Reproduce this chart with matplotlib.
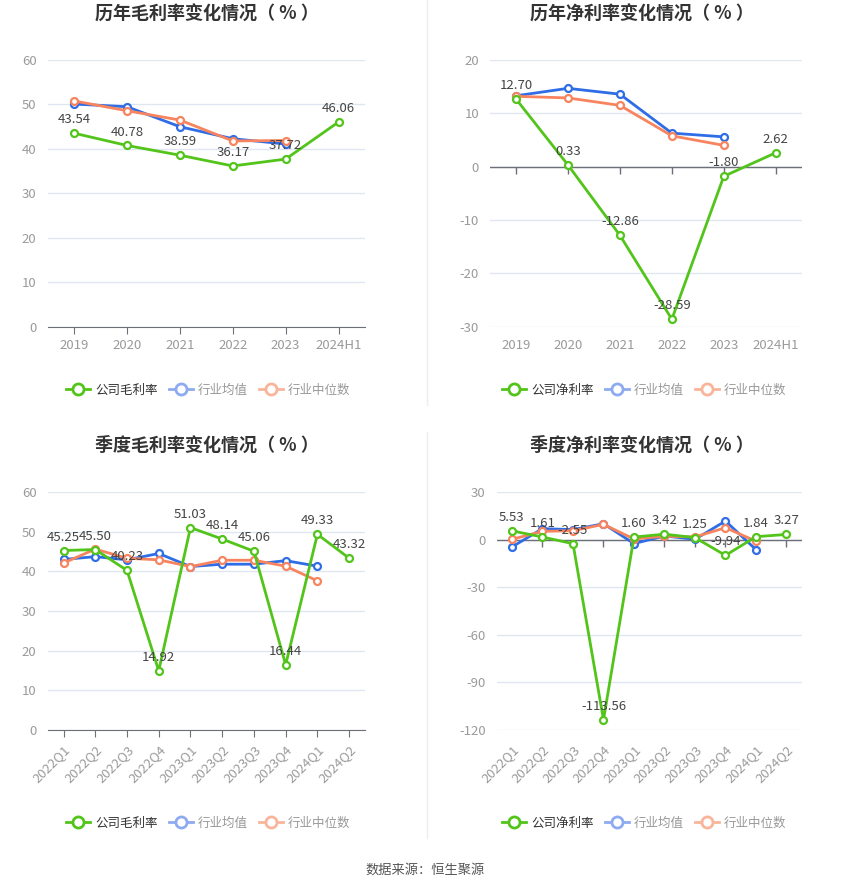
import numpy as np
import matplotlib
matplotlib.use("Agg")
import matplotlib.pyplot as plt
from matplotlib.lines import Line2D

plt.rcParams['font.family'] = ['Noto Sans CJK SC', 'DejaVu Sans']
plt.rcParams['axes.unicode_minus'] = False

# ---- data ----
years = ['2019', '2020', '2021', '2022', '2023', '2024H1']
quarters = ['2022Q1', '2022Q2', '2022Q3', '2022Q4', '2023Q1',
            '2023Q2', '2023Q3', '2023Q4', '2024Q1', '2024Q2']

gross_company = [43.54, 40.78, 38.59, 36.17, 37.72, 46.06]
gross_mean = [50.1, 49.5, 45.0, 42.3, 41.1]
gross_median = [50.8, 48.6, 46.5, 41.8, 41.9]

net_company = [12.70, 0.33, -12.86, -28.59, -1.80, 2.62]
net_mean = [13.3, 14.7, 13.6, 6.3, 5.6]
net_median = [13.2, 12.9, 11.5, 5.8, 4.0]

q_gross_company = [45.25, 45.50, 40.23, 14.92, 51.03, 48.14, 45.06, 16.44, 49.33, 43.32]
q_gross_mean = [43.0, 43.7, 42.9, 44.5, 41.2, 41.8, 41.8, 42.7, 41.3]
q_gross_median = [42.1, 45.6, 43.3, 42.9, 41.2, 42.8, 42.8, 41.3, 37.6]

q_net_company = [5.53, 1.61, -2.55, -113.56, 1.60, 3.42, 1.25, -9.94, 1.84, 3.27]
q_net_mean = [-4.6, 6.9, 6.3, 10.0, -2.5, 2.3, 0.2, 11.7, -6.3]
q_net_median = [0.2, 5.2, 5.6, 9.6, 0.4, 2.1, 1.7, 7.5, -1.0]

GREEN = '#52c41a'
BLUE = '#2f6de6'
ORANGE = '#f7845e'
GRID = '#e0e6f1'
AXIS = '#6e7079'
TICK = '#9a9a9a'
LABEL = '#444444'


def draw_panel(ax, cats, company, mean, median, ylim, step, rotate):
    x = np.arange(len(cats))
    ax.set_xlim(-0.5, len(cats) - 0.5)
    ax.set_ylim(*ylim)
    ax.set_yticks(np.arange(ylim[0], ylim[1] + step / 2, step))
    ax.grid(axis='y', color=GRID, linewidth=1)
    ax.set_axisbelow(True)
    for s in ['top', 'right', 'left']:
        ax.spines[s].set_visible(False)
    ax.tick_params(axis='y', length=0, labelcolor=TICK, labelsize=9.5, pad=8)

    if ylim[0] < 0:
        # category axis sits on zero, labels stay at the bottom
        ax.spines['bottom'].set_visible(False)
        ax.axhline(0, color=AXIS, linewidth=1, zorder=2)
        ax.plot(x, np.zeros(len(x)), linestyle='none', marker=3,
                markersize=5, color=AXIS, markeredgewidth=1, zorder=2)
        ax.tick_params(axis='x', length=0, pad=9)
    else:
        ax.spines['bottom'].set_color(AXIS)
        ax.tick_params(axis='x', length=5, color=AXIS, pad=4)
    ax.set_xticks(x)
    if rotate:
        ax.set_xticklabels(cats, rotation=45, ha='right', rotation_mode='anchor')
    else:
        ax.set_xticklabels(cats)
    ax.tick_params(axis='x', labelcolor=TICK, labelsize=9.5)

    style = dict(marker='o', markersize=5, markerfacecolor='white',
                 markeredgewidth=1.6, linewidth=2)
    ax.plot(x[:len(mean)], mean, color=BLUE, zorder=3, **style)
    ax.plot(x[:len(median)], median, color=ORANGE, zorder=4, **style)
    ax.plot(x, company, color=GREEN, zorder=5, **style)
    for xi, v in zip(x, company):
        ax.annotate(f'{v:.2f}', (xi, v), xytext=(0, 5), textcoords='offset points',
                    ha='center', va='bottom', fontsize=9.5, color=LABEL, zorder=6)


def add_legend(fig, cx, cy, first):
    handles = [
        Line2D([], [], color=GREEN, marker='o', markersize=8, markerfacecolor='white',
               markeredgewidth=2, linewidth=2),
        Line2D([], [], color='#8eaaf0', marker='o', markersize=8, markerfacecolor='white',
               markeredgewidth=2, linewidth=2),
        Line2D([], [], color='#f9b59b', marker='o', markersize=8, markerfacecolor='white',
               markeredgewidth=2, linewidth=2),
    ]
    leg = fig.legend(handles, [first, '行业均值', '行业中位数'], loc='center',
                     bbox_to_anchor=(cx, cy), ncol=3, frameon=False, fontsize=9,
                     handlelength=1.9, handletextpad=0.4, columnspacing=0.9)
    for t, c in zip(leg.get_texts(), ['#333333', '#999999', '#999999']):
        t.set_color(c)


fig = plt.figure(figsize=(8.5, 8.91), dpi=100)

ax1 = fig.add_axes([0.0561, 0.6333, 0.3733, 0.2993])
ax2 = fig.add_axes([0.5765, 0.6333, 0.3667, 0.2993])
ax3 = fig.add_axes([0.0561, 0.1807, 0.3733, 0.2671])
ax4 = fig.add_axes([0.5844, 0.1807, 0.3588, 0.2671])

draw_panel(ax1, years, gross_company, gross_mean, gross_median, (0, 60), 10, False)
draw_panel(ax2, years, net_company, net_mean, net_median, (-30, 20), 10, False)
draw_panel(ax3, quarters, q_gross_company, q_gross_mean, q_gross_median, (0, 60), 10, True)
draw_panel(ax4, quarters, q_net_company, q_net_mean, q_net_median, (-120, 30), 30, True)

title_kw = dict(ha='center', va='center', fontsize=13, fontweight='bold', color='#333333')
fig.text(0.243, 0.984, '历年毛利率变化情况（ % ）', **title_kw)
fig.text(0.755, 0.984, '历年净利率变化情况（ % ）', **title_kw)
fig.text(0.243, 0.5006, '季度毛利率变化情况（ % ）', **title_kw)
fig.text(0.755, 0.5006, '季度净利率变化情况（ % ）', **title_kw)

add_legend(fig, 0.245, 0.5623, '公司毛利率')
add_legend(fig, 0.758, 0.5623, '公司净利率')
add_legend(fig, 0.245, 0.0763, '公司毛利率')
add_legend(fig, 0.758, 0.0763, '公司净利率')

# divider lines between left and right panels
fig.add_artist(Line2D([0.5024, 0.5024], [0.545, 1.0], color='#eeeeee', linewidth=1))
fig.add_artist(Line2D([0.5024, 0.5024], [0.06, 0.515], color='#eeeeee', linewidth=1))

fig.text(0.5, 0.0236, '数据来源：恒生聚源', ha='center', va='center', fontsize=9.5, color='#555555')

fig.savefig('out.png', dpi=100)
